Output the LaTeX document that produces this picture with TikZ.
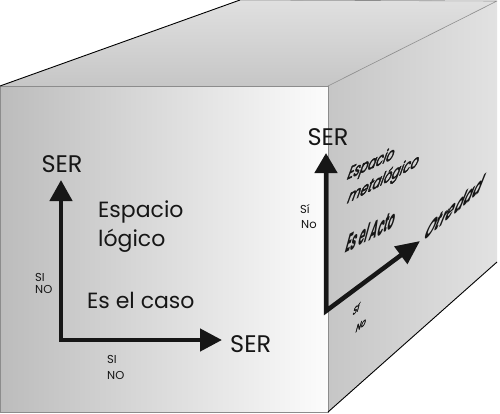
\documentclass[tikz,border=0pt]{standalone}
\usepackage{fontspec}
\setmainfont{Poppins}
\newfontfamily\facefont[FakeBold=3]{Poppins}
\usetikzlibrary{arrows.meta}
\definecolor{ink}{RGB}{22,22,22}
\definecolor{frontL}{RGB}{188,188,188}
\definecolor{frontM}{RGB}{222,222,222}
\definecolor{frontR}{RGB}{252,252,252}
\definecolor{topT}{RGB}{224,224,224}
\definecolor{topB}{RGB}{198,198,198}
\definecolor{sideL}{RGB}{198,198,198}
\definecolor{sideR}{RGB}{226,226,226}
\definecolor{edge}{RGB}{140,140,140}
\begin{document}
\begin{tikzpicture}[x=1pt,y=-1pt,
  axisline/.style={line width=4.5pt, draw=ink, line join=miter},
  lbl/.style={text=ink, inner sep=0pt, anchor=base west},
  big/.style={font=\fontsize{24}{24}\selectfont},
  mid/.style={font=\fontsize{22}{22}\selectfont},
  small/.style={font=\fontsize{11.5}{11.5}\selectfont},
]
\useasboundingbox (0,0) rectangle (500,413);
% faces
\shade[top color=topT, bottom color=topB] (0,86) -- (240,0) -- (497,1) -- (328,86) -- cycle;
\shade[left color=sideL, right color=sideR] (328,86) -- (497,1) -- (497,262) -- (328,412) -- cycle;
\shade[left color=frontL, middle color=frontM, right color=frontR] (0,86) -- (328,86) -- (328,412) -- (0,412) -- cycle;
% edges
\draw[edge, line width=0.6pt] (0,412) -- (0,86) -- (328,86) -- (328,412) -- (0,412);
\draw[edge, line width=0.6pt] (240,0) -- (497,1) (328,86) -- (497,1);
\draw[black, line width=0.9pt] (0,86) -- (240,0);
\draw[black, line width=0.9pt] (328,412) -- (497,262);
% left axes
\coordinate (o1) at (61,340);
\coordinate (t1) at (61,180);
\coordinate (t2) at (222,340);
\draw[axisline, {Triangle[length=21pt,width=22pt]}-{Triangle[length=22pt,width=22pt]}] (t1) -- (o1) -- (t2);
% right axes
\coordinate (o2) at (326,311);
\coordinate (t3) at (326,153);
\coordinate (t4) at (420,241);
\draw[axisline, {Triangle[length=20pt,width=22pt]}-{Triangle[length=24pt,width=21pt]}] (t3) -- (o2) -- (t4);
% left labels
\node[lbl, big, anchor=base] (ser1) at (62,172) {SER};
\node[lbl, big] (ser2) at (230,352) {SER};
\node[lbl, mid] (esp) at (98,217) {Espacio};
\node[lbl, mid] (log) at (98,246) {lógico};
\node[lbl, mid] (caso) at (87,308) {Es el caso};
\node[lbl, small] (si1) at (35,281) {SI};
\node[lbl, small] (no1) at (35,293) {NO};
\node[lbl, small] (si2) at (107,363) {SI};
\node[lbl, small] (no2) at (107,379) {NO};
% right labels
\node[lbl, big, anchor=base] (ser3) at (328,145) {SER};
\node[lbl, small] (si3) at (300,213) {Sí};
\node[lbl, small] (no3) at (301,228) {No};
\node[lbl, font=\facefont\fontsize{20.5}{20.5}\selectfont, cm={0.58,0.26,0.34,0.94,(0pt,0pt)}] (esp2) at (346,180) {Espacio};
\node[lbl, font=\facefont\fontsize{20.5}{20.5}\selectfont, cm={0.60,0.32,0.34,0.94,(0pt,0pt)}] (meta) at (346,204) {metalógico};
\node[lbl, font=\bfseries\fontsize{28}{28}\selectfont, cm={0.36,0.19,0.26,0.97,(0pt,0pt)}] (acto) at (344,254) {Es el Acto};
\node[lbl, font=\bfseries\fontsize{30}{30}\selectfont, cm={0.45,0.39,0.37,0.93,(0pt,0pt)}] (otr) at (422,243) {Otredad};
\node[lbl, font=\facefont\fontsize{12}{12}\selectfont, cm={0.61,0.51,0.26,0.97,(0pt,0pt)}] (si4) at (352,316) {Sí};
\node[lbl, font=\facefont\fontsize{12}{12}\selectfont, cm={0.61,0.51,0.26,0.97,(0pt,0pt)}] (no4) at (355,333) {No};
\end{tikzpicture}
\end{document}
